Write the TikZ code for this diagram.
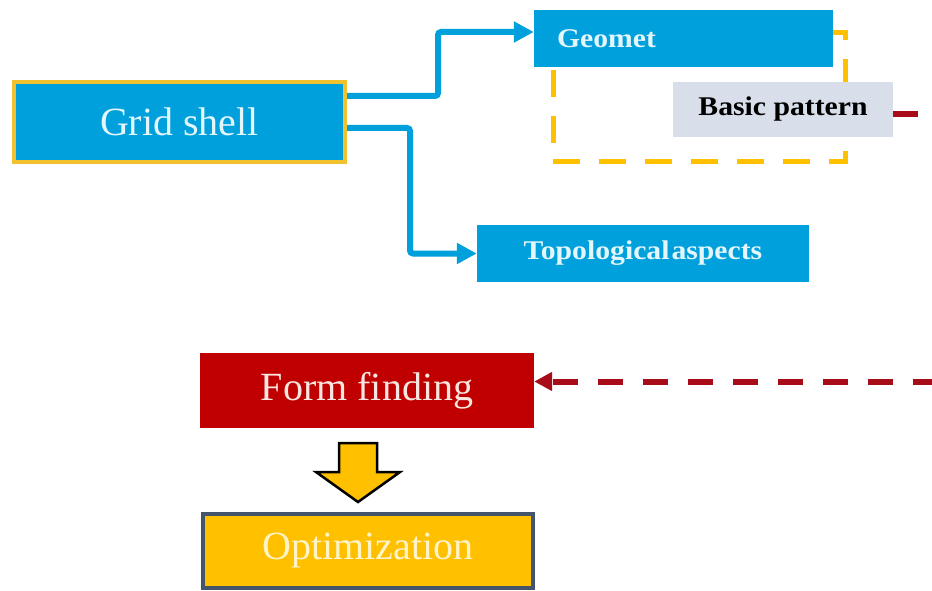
\documentclass[tikz,border=0pt]{standalone}
\usepackage{fontspec}
\setmainfont{Liberation Serif}
\newfontfamily\tagfont[FakeStretch=1.1]{Liberation Serif}
\usetikzlibrary{arrows.meta,calc}

\definecolor{skyblue}{HTML}{00A0DC}
\definecolor{amber}{HTML}{FFC000}
\definecolor{frameyellow}{HTML}{F2C12E}
\definecolor{brick}{HTML}{C00000}
\definecolor{darkred}{HTML}{A80C18}
\definecolor{paleblue}{HTML}{D9DFEA}
\definecolor{slate}{HTML}{44546A}
\definecolor{icewhite}{HTML}{E2F6FC}
\definecolor{blush}{HTML}{F8E6E0}
\definecolor{cream}{HTML}{FFF3C8}

\begin{document}
\begin{tikzpicture}[x=1pt,y=-1pt,
  bigbox/.style={rectangle, inner sep=0pt, font=\fontsize{40}{48}\selectfont},
  tagbox/.style={rectangle, inner sep=0pt, text=icewhite,
    font=\tagfont\bfseries\fontsize{27}{32}\selectfont},
  feed/.style={draw=skyblue, line width=6pt, rounded corners=3pt,
    -{Triangle[length=20pt,width=20pt]}},
  dashframe/.style={amber, line width=5pt, dash pattern=on 27pt off 19pt},
  feedback/.style={darkred, line width=6pt, dash pattern=on 25pt off 20pt,
    -{Triangle[length=18pt,width=18pt]}}]

\clip (0,0) rectangle (932,591);
\fill[white] (0,0) rectangle (932,591);

% dashed frame grouping the geometry boxes
\draw[dashframe] (553,162) -- (845,162) -- (845,33) -- (540,33);
\draw[dashframe, dash phase=27pt] (553,162) -- (553,33);

% boxes
\node[bigbox, fill=skyblue, draw=frameyellow, line width=4pt,
  minimum width=331pt, minimum height=80pt, text=icewhite] (GS) at (179.5,122) {Grid shell};
\node[tagbox, fill=skyblue, minimum width=299pt, minimum height=57pt,
  inner xsep=23pt, text width=253pt, align=left] (Geo) at (683.5,38.5) {Geomet};
\node[tagbox, fill=paleblue, text=black, minimum width=220pt, minimum height=55pt]
  (BP) at (783,109.5) {Basic pattern};
\node[tagbox, fill=skyblue, minimum width=332pt, minimum height=57pt]
  (Topo) at (643,253.5) {Topological\hspace{2pt}aspects};
\node[bigbox, fill=brick, text=blush, minimum width=334pt, minimum height=75pt]
  (FF) at (367,390.5) {Form finding};
\node[bigbox, fill=amber, draw=slate, line width=3.5pt, text=cream,
  minimum width=330pt, minimum height=74pt] (Opt) at (368,551) {Optimization};

% connectors
\draw[feed] ([yshift=26pt]GS.east) -- ++(91,0) |- ([yshift=6.5pt]Geo.west);
\draw[feed] ([yshift=-6pt]GS.east) -- ++(63,0) |- (Topo.west);
\draw[feedback] ([yshift=-5pt]BP.east) -- ++(91.5,0) |- ([yshift=9pt]FF.east);

% block arrow from form finding to optimization
\draw[fill=amber, line width=2.5pt, line join=miter]
  (339,443) -- (377,443) -- (377,472) -- (400,472) -- (358,502)
  -- (316,472) -- (339,472) -- cycle;
\end{tikzpicture}
\end{document}
